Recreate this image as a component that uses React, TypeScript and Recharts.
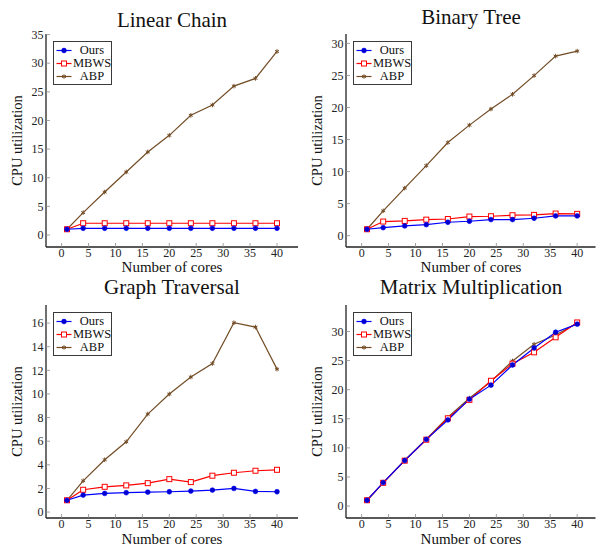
import React from 'react';
import { LineChart, Line, XAxis, YAxis, Legend } from 'recharts';

// ---------- data ----------
const cores = [1, 4, 8, 12, 16, 20, 24, 28, 32, 36, 40];
const xTicks = [0, 5, 10, 15, 20, 25, 30, 35, 40];

const linearOurs = [1, 1.17, 1.17, 1.17, 1.17, 1.17, 1.17, 1.17, 1.17, 1.17, 1.17];
const linearMbws = [1, 2.05, 2.05, 2.05, 2.05, 2.05, 2.05, 2.05, 2.05, 2.05, 2.05];
const linearAbp = [1, 3.9, 7.5, 11.0, 14.5, 17.4, 20.9, 22.7, 26.0, 27.35, 32.05];
const linearYTicks = [0, 5, 10, 15, 20, 25, 30, 35];

const treeOurs = [1, 1.25, 1.52, 1.72, 2.09, 2.25, 2.51, 2.51, 2.72, 3.08, 3.08];
const treeMbws = [1, 2.2, 2.3, 2.5, 2.6, 2.98, 3.03, 3.19, 3.24, 3.45, 3.4];
const treeAbp = [1, 3.87, 7.42, 10.93, 14.53, 17.25, 19.76, 22.06, 24.98, 28.02, 28.8];
const treeYTicks = [0, 5, 10, 15, 20, 25, 30];

const graphOurs = [1, 1.44, 1.58, 1.64, 1.69, 1.72, 1.78, 1.86, 2.0, 1.75, 1.72];
const graphMbws = [1, 1.89, 2.14, 2.26, 2.45, 2.79, 2.54, 3.08, 3.33, 3.5, 3.58];
const graphAbp = [1, 2.65, 4.43, 5.95, 8.3, 9.99, 11.43, 12.58, 16.03, 15.66, 12.1];
const graphYTicks = [0, 2, 4, 6, 8, 10, 12, 14, 16];

const matrixOurs = [1, 4.03, 7.83, 11.46, 14.8, 18.37, 20.78, 24.24, 27.17, 29.87, 31.26];
const matrixMbws = [1, 4.0, 7.8, 11.4, 15.08, 18.25, 21.53, 24.47, 26.42, 29.0, 31.55];
const matrixAbp = [1, 4.0, 7.9, 11.5, 15.26, 18.54, 21.4, 24.93, 27.8, 29.4, 31.43];
const matrixYTicks = [0, 5, 10, 15, 20, 25, 30];

const seriesNames = ['Ours', 'MBWS', 'ABP'];
const panelTitles = ['Linear Chain', 'Binary Tree', 'Graph Traversal', 'Matrix Multiplication'];

// ---------- styles ----------
const FONT = "'Liberation Serif', Tinos, 'Times New Roman', Times, 'DejaVu Serif', serif";
const BLUE = '#0000ff';
const BLUE_FILL = '#0000cc';
const RED = '#ff0000';
const BROWN = '#734d26';
const FRAME = '#222222';
const TICKLINE = '#8a8a8a';

const buildRows = (ours: number[], mbws: number[], abp: number[]) =>
  cores.map((c, i) => ({ cores: c, ours: ours[i], mbws: mbws[i], abp: abp[i] }));

const CircleMark = ({ cx, cy }: { cx: number; cy: number }) => (
  <circle cx={cx} cy={cy} r={2.4} fill={BLUE_FILL} stroke={BLUE} strokeWidth={0.6} />
);
const SquareMark = ({ cx, cy }: { cx: number; cy: number }) => (
  <rect x={cx - 2.5} y={cy - 2.5} width={5} height={5} fill="#ffffff" stroke={RED} strokeWidth={1} />
);
const StarMark = ({ cx, cy }: { cx: number; cy: number }) => {
  const s = 2.3;
  return (
    <g stroke={BROWN} strokeWidth={1}>
      <line x1={cx} y1={cy - s} x2={cx} y2={cy + s} />
      <line x1={cx - s * 0.87} y1={cy - s / 2} x2={cx + s * 0.87} y2={cy + s / 2} />
      <line x1={cx - s * 0.87} y1={cy + s / 2} x2={cx + s * 0.87} y2={cy - s / 2} />
    </g>
  );
};

const makeDot = (kind: string) => (props: any) => {
  const { cx, cy, index } = props;
  if (cx == null || cy == null) return <g key={`n-${kind}-${index}`} />;
  const k = `${kind}-${index}`;
  if (kind === 'ours') return <CircleMark key={k} cx={cx} cy={cy} />;
  if (kind === 'mbws') return <SquareMark key={k} cx={cx} cy={cy} />;
  return <StarMark key={k} cx={cx} cy={cy} />;
};

const legendItems = [
  { name: seriesNames[0], color: BLUE, kind: 'ours' },
  { name: seriesNames[1], color: RED, kind: 'mbws' },
  { name: seriesNames[2], color: BROWN, kind: 'abp' },
];

const LegendBox = () => (
  <div
    style={{
      width: 57,
      border: '1.3px solid #3a3a3a',
      background: '#ffffff',
      fontFamily: FONT,
      fontSize: 12.5,
      color: '#111',
      padding: '2px 0 1px 0',
    }}
  >
    {legendItems.map((it) => (
      <div key={it.name} style={{ display: 'flex', alignItems: 'center', height: 13 }}>
        <svg width={19} height={13} style={{ display: 'block', flex: 'none' }}>
          <line x1={2.5} x2={17.5} y1={6.5} y2={6.5} stroke={it.color} strokeWidth={1.2} />
          {it.kind === 'ours' && <CircleMark cx={10} cy={6.5} />}
          {it.kind === 'mbws' && <SquareMark cx={10} cy={6.5} />}
          {it.kind === 'abp' && <StarMark cx={10} cy={6.5} />}
        </svg>
        <span style={{ flex: 1, textAlign: 'center', lineHeight: '13px', whiteSpace: 'nowrap' }}>{it.name}</span>
      </div>
    ))}
  </div>
);

type PanelProps = {
  left: number;
  top: number;
  width: number;
  height: number;
  marginTop: number;
  marginRight: number;
  xAxisHeight: number;
  xDomain: [number, number];
  yDomain: [number, number];
  yTicks: number[];
  rows: any[];
};

const tickStyle = { fontFamily: FONT, fontSize: 12, fill: '#222' };

const Panel = (p: PanelProps) => (
  <div style={{ position: 'absolute', left: p.left, top: p.top }}>
    <LineChart
      width={p.width}
      height={p.height}
      data={p.rows}
      margin={{ top: p.marginTop, right: p.marginRight, bottom: 0, left: 0 }}
    >
      <XAxis
        dataKey="cores"
        type="number"
        domain={p.xDomain}
        ticks={xTicks}
        allowDataOverflow
        height={p.xAxisHeight}
        axisLine={{ stroke: FRAME, strokeWidth: 1.3 }}
        tickLine={{ stroke: TICKLINE, strokeWidth: 0.8 }}
        tickSize={-4}
        tickMargin={5.5}
        tick={tickStyle}
        interval={0}
      />
      <XAxis
        xAxisId="top"
        orientation="top"
        dataKey="cores"
        type="number"
        domain={p.xDomain}
        ticks={xTicks}
        allowDataOverflow
        height={0}
        axisLine={{ stroke: FRAME, strokeWidth: 1.3 }}
        tickLine={{ stroke: TICKLINE, strokeWidth: 0.8 }}
        tickSize={-4}
        tick={false}
        interval={0}
      />
      <YAxis
        type="number"
        domain={p.yDomain}
        ticks={p.yTicks}
        allowDataOverflow
        width={46}
        axisLine={{ stroke: FRAME, strokeWidth: 1.3 }}
        tickLine={{ stroke: TICKLINE, strokeWidth: 0.8 }}
        tickSize={-4}
        tickMargin={6.5}
        tick={tickStyle}
        interval={0}
      />
      <YAxis
        yAxisId="right"
        orientation="right"
        type="number"
        domain={p.yDomain}
        ticks={p.yTicks}
        allowDataOverflow
        width={0}
        axisLine={{ stroke: FRAME, strokeWidth: 1.3 }}
        tickLine={{ stroke: TICKLINE, strokeWidth: 0.8 }}
        tickSize={-4}
        tick={false}
        interval={0}
      />
      <Legend
        layout="horizontal"
        verticalAlign="middle"
        align="center"
        wrapperStyle={{ left: 53, top: p.marginTop + 7, width: 'auto' }}
        content={() => <LegendBox />}
      />
      <Line
        dataKey="abp"
        stroke={BROWN}
        strokeWidth={1.2}
        dot={makeDot('abp')}
        activeDot={false}
        isAnimationActive={false}
      />
      <Line
        dataKey="mbws"
        stroke={RED}
        strokeWidth={1.2}
        dot={makeDot('mbws')}
        activeDot={false}
        isAnimationActive={false}
      />
      <Line
        dataKey="ours"
        stroke={BLUE}
        strokeWidth={1.2}
        dot={makeDot('ours')}
        activeDot={false}
        isAnimationActive={false}
      />
    </LineChart>
  </div>
);

const panels: PanelProps[] = [
  {
    left: 0, top: 0, width: 300, height: 275, marginTop: 34, marginRight: 2, xAxisHeight: 28,
    xDomain: [-2.9, 43.9], yDomain: [-2.1, 35.1], yTicks: linearYTicks,
    rows: buildRows(linearOurs, linearMbws, linearAbp),
  },
  {
    left: 300, top: 0, width: 297, height: 275, marginTop: 34, marginRight: 1.5, xAxisHeight: 28,
    xDomain: [-2.9, 43.4], yDomain: [-1.77, 31.47], yTicks: treeYTicks,
    rows: buildRows(treeOurs, treeMbws, treeAbp),
  },
  {
    left: 0, top: 275, width: 300, height: 274, marginTop: 30, marginRight: 2, xAxisHeight: 31,
    xDomain: [-2.9, 43.9], yDomain: [-0.5, 17.53], yTicks: graphYTicks,
    rows: buildRows(graphOurs, graphMbws, graphAbp),
  },
  {
    left: 300, top: 275, width: 297, height: 274, marginTop: 30, marginRight: 1.5, xAxisHeight: 31,
    xDomain: [-2.9, 43.4], yDomain: [-2.05, 34.55], yTicks: matrixYTicks,
    rows: buildRows(matrixOurs, matrixMbws, matrixAbp),
  },
];

const titlePos = [
  { x: 172, y: 27 },
  { x: 471, y: 23.5 },
  { x: 172, y: 293.5 },
  { x: 471, y: 294 },
];
const xLabelPos = [
  { x: 172, y: 272 },
  { x: 471, y: 272 },
  { x: 172, y: 543.5 },
  { x: 471, y: 543.5 },
];
const yLabelPos = [
  { x: 22, y: 140.5 },
  { x: 321.5, y: 140.5 },
  { x: 22, y: 411.5 },
  { x: 321.5, y: 411.5 },
];

export default function App() {
  return (
    <div
      style={{
        position: 'absolute',
        left: 0,
        top: 0,
        width: 597,
        height: 549,
        background: '#ffffff',
        overflow: 'hidden',
        fontFamily: FONT,
      }}
    >
      {panels.map((p, i) => (
        <Panel key={i} {...p} />
      ))}
      <svg
        width={597}
        height={549}
        style={{ position: 'absolute', left: 0, top: 0, pointerEvents: 'none', fontFamily: FONT }}
      >
        {panelTitles.map((t, i) => (
          <text
            key={`t${i}`}
            x={titlePos[i].x}
            y={titlePos[i].y}
            textAnchor="middle"
            style={{ fontFamily: FONT, fontSize: 21 }}
            fill="#111"
          >
            {t}
          </text>
        ))}
        {xLabelPos.map((pos, i) => (
          <text
            key={`x${i}`}
            x={pos.x}
            y={pos.y}
            textAnchor="middle"
            style={{ fontFamily: FONT, fontSize: 15 }}
            fill="#111"
          >
            Number of cores
          </text>
        ))}
        {yLabelPos.map((pos, i) => (
          <text
            key={`y${i}`}
            x={pos.x}
            y={pos.y}
            textAnchor="middle"
            style={{ fontFamily: FONT, fontSize: 14.5 }}
            fill="#111"
            transform={`rotate(-90 ${pos.x} ${pos.y})`}
          >
            CPU utilization
          </text>
        ))}
      </svg>
    </div>
  );
}
